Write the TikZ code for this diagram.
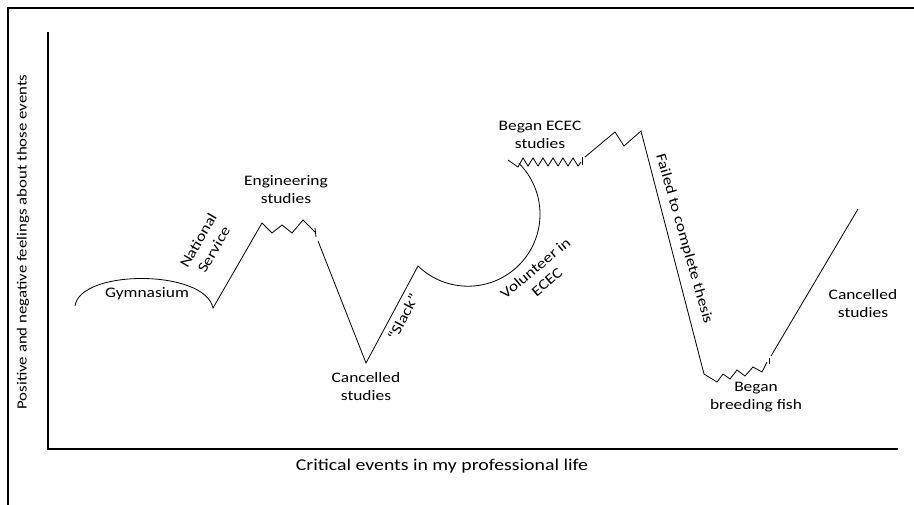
\documentclass[tikz,border=0pt]{standalone}
\usepackage{fontspec}
\setmainfont{Carlito}[FakeStretch=1.2]
\usetikzlibrary{positioning}

\begin{document}
\begin{tikzpicture}[x=1pt,y=1pt,% List of styles applied to all
		every node/.style={
			align=center,  		% use this so that the "\\" for line break works
			inner sep=0pt,
			font=\fontsize{14.5}{18}\selectfont
		},
		life/.style={draw,line width=0.8pt,line join=miter},
		axis/.style={draw,line width=1.6pt}
	]
	\useasboundingbox (0,0) rectangle (914,504);
	% frame, only top and left edge are seen
	\draw[line width=2.2pt] (8,-4) -- (8,496) -- (918,496);
	% axes
	\coordinate (O) at (48,55);
	\coordinate (Ytop) at (48,472);
	\coordinate (Xend) at (898,55);
	\draw[axis] (Ytop) -- (O) -- (Xend);
	\node[rotate=90,font=\fontsize{14}{18}\selectfont](Ylab) at (23,262){Positive and negative feelings about those events};
	\node[font=\fontsize{16.5}{20}\selectfont](Xlab) at (442,38){Critical events in my professional life};

	% the line of events
	\draw[life] (75,198) .. controls (80,235) and (205,235) .. (213,196)
		-- (262,281) -- (272,271) -- (282,279) -- (292,271) -- (303,284) -- (315,272);
	\draw[life] (315,276) -- (316,267);
	\draw[life] (318,263) -- (366,141) -- (418,238)
		arc[start angle=226,end angle=405,radius=72];
	\draw[life] (508,344) -- (518,337)
		\foreach \i in {0,...,5}{ -- ({523+10*\i},346) -- ({528+10*\i},338) } -- (581,342);
	\draw[life] (582,347) -- (582,339);
	\draw[life] (585,347) -- (615,372) -- (624,358) -- (641,373) -- (704,130)
		-- (717,122) -- (723,130) -- (730,125) -- (737,134) -- (745,128)
		-- (753,137) -- (762,132) -- (767,142);
	\draw[life] (769,146) -- (769,140);
	\draw[life] (771,148) -- (858,295);

	% events
	\node(Gym) at (147,210){Gymnasium};
	\node[rotate=60](Nat) at (206,259){National\\ Service};
	\node(Eng) at (286,314){Engineering\\ studies};
	\node(Canc) at (366,117){Cancelled\\ studies};
	\node[rotate=62](Slack) at (403,187){“Slack”};
	\node[rotate=40](Vol) at (541,229){Volunteer in\\ ECEC};
	\node(ECEC) at (540,369){Began ECEC\\ studies};
	\node[rotate=-74](Fail) at (684,265){Failed to complete thesis};
	\node(Fish) at (756,107){Began\\ breeding fish};
	\node(CancB) at (863,200){Cancelled\\ studies};
\end{tikzpicture}
\end{document}
